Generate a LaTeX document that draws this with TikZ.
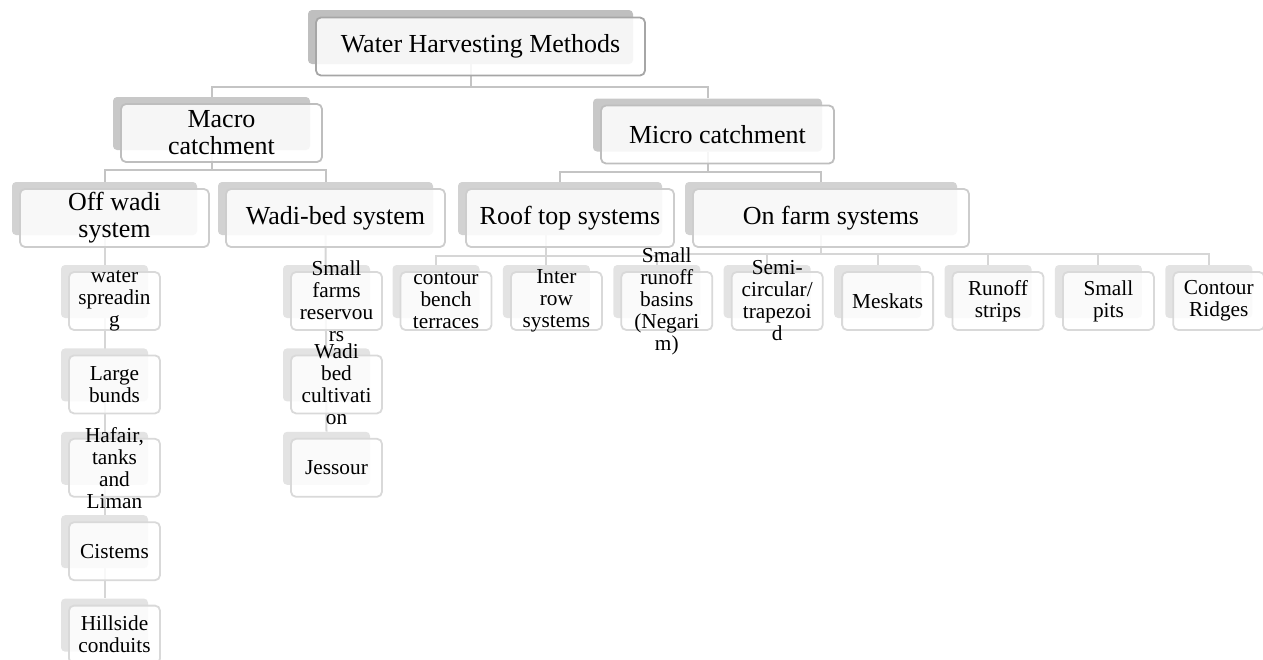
\documentclass[tikz,border=0pt]{standalone}
\usepackage{fontspec}
\setmainfont{Liberation Serif}
\usetikzlibrary{positioning, backgrounds}
\definecolor{TopShade}{HTML}{BFBFBF}
\definecolor{TopEdge}{HTML}{A6A6A6}
\definecolor{MidShade}{HTML}{C8C8C8}
\definecolor{MidEdge}{HTML}{BEBEBE}
\definecolor{SubShade}{HTML}{D2D2D2}
\definecolor{SubEdge}{HTML}{CDCDCD}
\definecolor{LeafShade}{HTML}{E3E3E3}
\definecolor{LeafEdge}{HTML}{D9D9D9}
\definecolor{LinkGrey}{HTML}{C4C4C4}
\definecolor{LeafLink}{HTML}{D6D6D6}

% one item = grey shadow box, light front box, text
\newcommand{\harvitem}[5]{%
  \node[#2back, minimum width=#4pt, #3] (#1) {};
  \node[#2front, minimum width=#4pt+4pt] (#1-f) at (#1) {};
  \node[#2text] at (#1-f) {#5};
}

\begin{document}
\begin{tikzpicture}[
        x=1pt, y=-1pt,
        back/.style={rectangle, rounded corners=4pt, inner sep=0pt, minimum height=53pt},
        front/.style={rectangle, rounded corners=5pt, line width=1.8pt, fill=white, fill opacity=0.85, inner sep=0pt, minimum height=58pt, xshift=10pt, yshift=-9.5pt},
        topback/.style={back, fill=TopShade, minimum height=54pt},
        topfront/.style={front, draw=TopEdge},
        toptext/.style={font=\fontsize{26}{27}\selectfont, align=center},
        midback/.style={back, fill=MidShade},
        midfront/.style={front, draw=MidEdge},
        midtext/.style={toptext},
        subback/.style={back, fill=SubShade},
        subfront/.style={front, draw=SubEdge},
        subtext/.style={toptext},
        leafback/.style={back, fill=LeafShade},
        leaffront/.style={front, draw=LeafEdge},
        leaftext/.style={font=\fontsize{21.3}{22}\selectfont, align=center},
        link/.style={draw=LinkGrey, line width=2pt},
        leaflink/.style={draw=LeafLink, line width=2pt}
    ]
    \clip (0,0) rectangle (1263,659);

    % upper levels
    \harvitem{whm}{top}{at={(470.5,37)}}{325}{Water Harvesting Methods}
    \harvitem{macro}{mid}{at={(211.5,123.5)}}{197}{Macro\\catchment}
    \harvitem{micro}{mid}{at={(707.5,125)}}{229}{Micro catchment}
    \harvitem{offwadi}{sub}{at={(104.5,208.5)}}{185}{Off wadi\\system}
    \harvitem{wadibed}{sub}{at={(325.5,208.5)}}{215}{Wadi-bed system}
    \harvitem{rooftop}{sub}{at={(560,208.5)}}{204}{Roof top systems}
    \harvitem{onfarm}{sub}{at={(821,208.5)}}{272}{On farm systems}

    % off wadi column
    \harvitem{spread}{leaf}{at={(104.5,291.5)}}{87}{water\\spreadin\\g}
    \harvitem{bunds}{leaf}{below=30pt of spread}{87}{Large\\bunds}
    \harvitem{hafair}{leaf}{below=30pt of bunds}{87}{Hafair,\\tanks\\and\\Liman}
    \harvitem{cistems}{leaf}{below=30pt of hafair}{87}{Cistems}
    \harvitem{hillside}{leaf}{below=30pt of cistems}{87}{Hillside\\conduits}

    % wadi-bed column
    \harvitem{farms}{leaf}{at={(326.5,291.5)}}{87}{Small\\farms\\reservou\\rs}
    \harvitem{cultiv}{leaf}{below=30pt of farms}{87}{Wadi\\bed\\cultivati\\on}
    \harvitem{jessour}{leaf}{below=30pt of cultiv}{87}{Jessour}

    % micro catchment row
    \harvitem{bench}{leaf}{at={(436,291.5)}}{87}{contour\\bench\\terraces}
    \harvitem{interrow}{leaf}{right=23pt of bench}{87}{Inter\\row\\systems}
    \harvitem{negarim}{leaf}{right=23pt of interrow}{87}{Small\\runoff\\basins\\(Negari\\m)}
    \harvitem{semi}{leaf}{right=23pt of negarim}{87}{Semi-\\circular/\\trapezoi\\d}
    \harvitem{meskat}{leaf}{right=23pt of semi}{87}{Meskats}
    \harvitem{strips}{leaf}{right=23pt of meskat}{87}{Runoff\\strips}
    \harvitem{pits}{leaf}{right=23pt of strips}{87}{Small\\pits}
    \harvitem{ridges}{leaf}{right=23pt of pits}{87}{Contour\\Ridges}

    % links, behind the boxes
    \begin{scope}[on background layer]
        \draw[link] (whm.south) -- ++(0,23) -| (macro.north);
        \draw[link] (whm.south) -- ++(0,23) -| (micro.north);
        \draw[link] (macro.south) -- ++(0,20) -| (offwadi.north);
        \draw[link] (macro.south) -- ++(0,20) -| (wadibed.north);
        \draw[link] (micro.south) -- ++(0,20) -| (rooftop.north);
        \draw[link] (micro.south) -- ++(0,20) -| (onfarm.north);
        \draw[leaflink] (offwadi.south) -- (hillside.north);
        \draw[leaflink] (wadibed.south) -- (jessour.north);
        \draw[leaflink] (rooftop.south -| interrow.north) -- ++(0,21) coordinate (rt) -| (bench.north);
        \draw[leaflink] (rt) -| (negarim.north);
        \draw[leaflink] (rt) -- (interrow.north);
        \draw[leaflink] (onfarm.south) -- ++(0,19) coordinate (of) -| (semi.north);
        \draw[leaflink] (of) -| (ridges.north);
        \draw[leaflink] (of -| semi.north) -- (of -| negarim.north);
        \foreach \leaf in {meskat, strips, pits}
            \draw[leaflink] (of -| \leaf.north) -- (\leaf.north);
    \end{scope}
\end{tikzpicture}
\end{document}
